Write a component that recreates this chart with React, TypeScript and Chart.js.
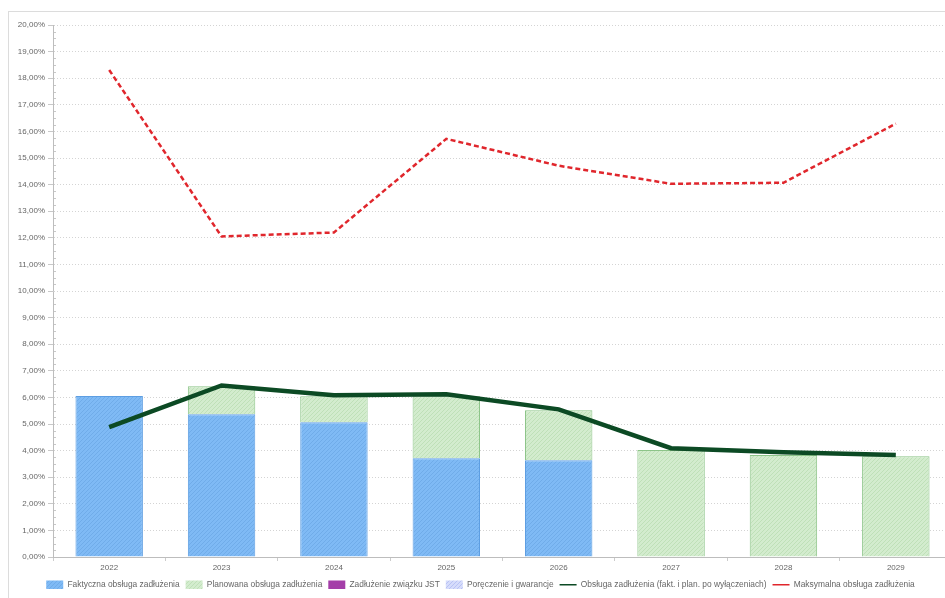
import React, { useEffect, useRef } from "react";
import { Chart, registerables } from "chart.js";

Chart.register(...registerables);

const categories = ["2022", "2023", "2024", "2025", "2026", "2027", "2028", "2029"];
const actualService = [6.05, 5.37, 5.07, 3.71, 3.64, 0, 0, 0];
const plannedService = [0, 1.05, 0.97, 2.33, 1.88, 4.02, 3.83, 3.79];
const unionDebt = [0, 0, 0, 0, 0, 0, 0, 0];
const guarantees = [0, 0, 0, 0, 0, 0, 0, 0];
const serviceAfterExclusions = [4.88, 6.45, 6.08, 6.12, 5.55, 4.09, 3.94, 3.83];
const maxService = [18.31, 12.05, 12.2, 15.72, 14.71, 14.03, 14.07, 16.29];

const labels = [
  "Faktyczna obsługa zadłużenia",
  "Planowana obsługa zadłużenia",
  "Zadłużenie związku JST",
  "Poręczenie i gwarancje",
  "Obsługa zadłużenia (fakt. i plan. po wyłączeniach)",
  "Maksymalna obsługa zadłużenia",
];

function hatch(base: string, dot: string): CanvasPattern | string {
  const c = document.createElement("canvas");
  c.width = 4;
  c.height = 4;
  const ctx = c.getContext("2d");
  if (!ctx) return base;
  ctx.fillStyle = base;
  ctx.fillRect(0, 0, 4, 4);
  ctx.fillStyle = dot;
  ctx.fillRect(0, 0, 1, 1);
  ctx.fillRect(2, 2, 1, 1);
  ctx.fillRect(1, 3, 1, 1);
  ctx.fillRect(3, 1, 1, 1);
  const p = ctx.createPattern(c, "repeat");
  return p || base;
}

const minorTicks = {
  id: "minorTicks",
  afterDraw(chart: any) {
    const y = chart.scales.y;
    const ctx = chart.ctx;
    const x0 = chart.chartArea.left;
    ctx.save();
    ctx.strokeStyle = "#c8c8c8";
    ctx.lineWidth = 1;
    for (let v = 0; v <= 20.001; v += 0.25) {
      const major = Math.abs(v - Math.round(v)) < 0.01;
      if (major) continue;
      const py = Math.round(y.getPixelForValue(v)) + 0.5;
      ctx.beginPath();
      ctx.moveTo(x0 + 1, py);
      ctx.lineTo(x0 + 3, py);
      ctx.stroke();
    }
    ctx.restore();
  },
};

export default function App() {
  const ref = useRef<HTMLCanvasElement | null>(null);
  useEffect(() => {
    if (!ref.current) return;
    const blue = hatch("#7fbaf5", "#70ace9");
    const green = hatch("#d3ecce", "#bfe0b8");
    const purple = "#a43ea8";
    const lavender = hatch("#d6dcfb", "#b8c2f4");
    const chart = new Chart(ref.current, {
      type: "bar",
      data: {
        labels: categories,
        datasets: [
          {
            label: labels[0],
            data: actualService,
            backgroundColor: blue as any,
            borderColor: "#5d9ee2",
            borderWidth: 1,
            stack: "bars",
            order: 1,
            barPercentage: 0.6,
            categoryPercentage: 1,
          },
          {
            label: labels[1],
            data: plannedService,
            backgroundColor: green as any,
            borderColor: "#8cc488",
            borderWidth: 1,
            stack: "bars",
            order: 1,
            barPercentage: 0.6,
            categoryPercentage: 1,
          },
          {
            label: labels[2],
            data: unionDebt,
            backgroundColor: purple,
            borderColor: purple,
            borderWidth: 0,
            stack: "bars",
            order: 1,
            barPercentage: 0.6,
            categoryPercentage: 1,
          },
          {
            label: labels[3],
            data: guarantees,
            backgroundColor: lavender as any,
            borderColor: "#b8c2f4",
            borderWidth: 0,
            stack: "bars",
            order: 1,
            barPercentage: 0.6,
            categoryPercentage: 1,
          },
          {
            type: "line",
            label: labels[4],
            data: serviceAfterExclusions,
            borderColor: "#0c4a24",
            backgroundColor: "#0c4a24",
            borderWidth: 4.5,
            pointRadius: 0,
            tension: 0,
            stack: "line1",
            order: 0,
            pointStyle: "line",
          } as any,
          {
            type: "line",
            label: labels[5],
            data: maxService,
            borderColor: "#e0262c",
            backgroundColor: "#e0262c",
            borderWidth: 2.5,
            borderDash: [5, 3],
            pointRadius: 0,
            tension: 0,
            stack: "line2",
            order: 0,
            pointStyle: "line",
          } as any,
        ],
      },
      options: {
        animation: false,
        responsive: false,
        maintainAspectRatio: false,
        layout: { padding: { top: 13, right: 0, left: 0, bottom: 0 } },
        plugins: {
          tooltip: { enabled: false },
          legend: {
            position: "bottom",
            align: "center",
            sort: (a: any, b: any) => a.datasetIndex - b.datasetIndex,
            labels: {
              usePointStyle: true,
              pointStyleWidth: 17,
              boxHeight: 10,
              padding: 6,
              color: "#666",
              font: { family: "Liberation Sans", size: 8.4 },
              generateLabels: (ch: any) => {
                const ds = ch.data.datasets;
                return ds.map((d: any, i: number) => {
                  const isLine = d.type === "line";
                  return {
                    text: d.label,
                    datasetIndex: i,
                    fillStyle: d.backgroundColor,
                    strokeStyle: isLine ? d.borderColor : d.backgroundColor,
                    lineWidth: isLine ? 1.5 : 0,
                    pointStyle: isLine ? "line" : "rect",
                    fontColor: "#666",
                    hidden: false,
                  };
                });
              },
            },
          },
        },
        scales: {
          x: {
            type: "category",
            stacked: true,
            offset: true,
            grid: {
              display: true,
              drawOnChartArea: false,
              drawTicks: true,
              tickLength: 4,
              color: "#cccccc",
            },
            border: { color: "#bdbdbd" },
            ticks: {
              color: "#666",
              font: { family: "Liberation Sans", size: 8 },
              padding: 2,
            },
          },
          y: {
            stacked: true,
            min: 0,
            max: 20,
            afterFit: (s: any) => {
              s.width = 44;
            },
            ticks: {
              stepSize: 1,
              color: "#666",
              font: { family: "Liberation Sans", size: 8 },
              padding: 3,
              callback: (v: any) => Number(v).toFixed(2).replace(".", ",") + "%",
            },
            grid: {
              color: "#d4d4d4",
              tickLength: 5,
              tickColor: "#c8c8c8",
            },
            border: { color: "#bdbdbd", dash: [1, 2] } as any,
          },
        },
      },
      plugins: [minorTicks],
    } as any);
    return () => chart.destroy();
  }, []);
  return (
    <div
      style={{
        position: "fixed",
        left: 8,
        top: 11,
        width: 960,
        height: 600,
        borderLeft: "1px solid #dcdcdc",
        borderTop: "1px solid #dcdcdc",
        background: "#fff",
      }}
    >
      <canvas ref={ref} width={943} height={587} style={{ display: "block", width: 943, height: 587 }} />
    </div>
  );
}
